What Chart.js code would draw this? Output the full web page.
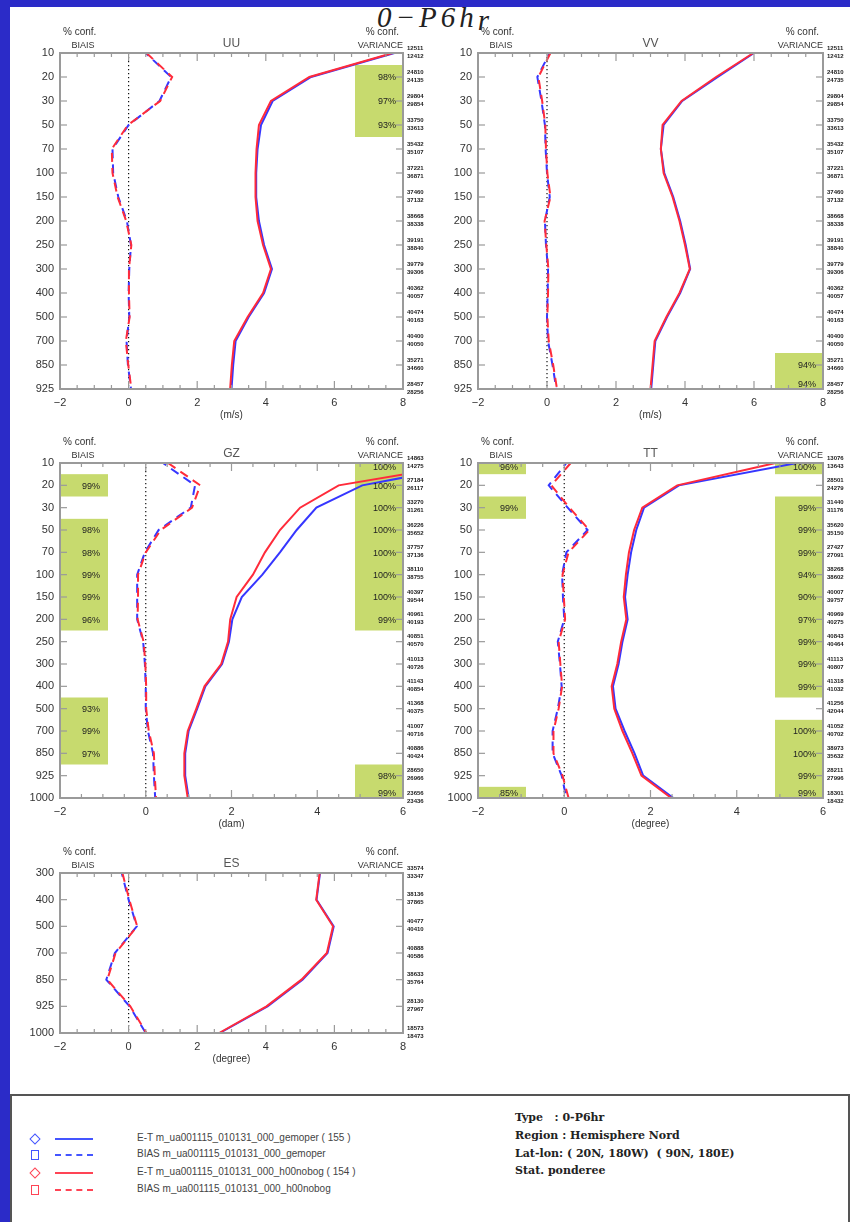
<!DOCTYPE html>
<html>
<head>
<meta charset="utf-8">
<script src="https://cdn.jsdelivr.net/npm/chart.js@4.4.0/dist/chart.umd.min.js"></script>
<style>
  body { margin: 0; width: 850px; height: 1222px; position: relative; overflow: hidden; background: #fff; font-family: "Liberation Sans", Arial, sans-serif; }
  #barLeft { position: absolute; left: 0; top: 0; width: 10px; height: 1222px; background: #2b2bc8; }
  #barTop { position: absolute; left: 0; top: 0; width: 850px; height: 7px; background: #2b2bc8; }
  #title { position: absolute; left: 377px; top: 3px; font: italic 29px/29px "Liberation Serif", serif; letter-spacing: 4px; color: #222; white-space: nowrap; }
  canvas { position: absolute; }
  #legend { position: absolute; left: 10px; top: 1094px; width: 836px; height: 140px; border: 2px solid #555; background: #fff; }
  .mk { position: absolute; box-sizing: border-box; }
  .ln { position: absolute; width: 38px; height: 0; }
  .lt { position: absolute; font-size: 10px; color: #444; white-space: nowrap; line-height: 12px; }
  .info { position: absolute; left: 503px; font: bold 11px/14px "DejaVu Serif", serif; color: #222; white-space: pre; }
</style>
</head>
<body>
<div id="barLeft"></div>
<div id="barTop"></div>
<div id="title">0−P6h<span style="position:relative;top:3px">r</span></div>

<canvas id="uu" width="430" height="411" style="left:10px;top:20px"></canvas>
<canvas id="vv" width="422" height="411" style="left:428px;top:20px"></canvas>
<canvas id="gz" width="430" height="410" style="left:10px;top:430px"></canvas>
<canvas id="tt" width="422" height="410" style="left:428px;top:430px"></canvas>
<canvas id="es" width="430" height="235" style="left:10px;top:840px"></canvas>

<div id="legend">
  <div class="mk" style="left:19px;top:39px;width:8px;height:8px;border:1.5px solid #4455ff;transform:rotate(45deg)"></div>
  <div class="ln" style="left:43px;top:42px;border-top:2px solid #4455ff"></div>
  <div class="lt" style="left:125px;top:36px">E-T m_ua001115_010131_000_gemoper ( 155 )</div>

  <div class="mk" style="left:19px;top:54px;width:8px;height:10px;border:1.5px solid #4455ff"></div>
  <div class="ln" style="left:43px;top:58px;border-top:2px dashed #4455ff"></div>
  <div class="lt" style="left:125px;top:52px">BIAS m_ua001115_010131_000_gemoper</div>

  <div class="mk" style="left:19px;top:73px;width:8px;height:8px;border:1.5px solid #ff4455;transform:rotate(45deg)"></div>
  <div class="ln" style="left:43px;top:76px;border-top:2px solid #ff4455"></div>
  <div class="lt" style="left:125px;top:70px">E-T m_ua001115_010131_000_h00nobog ( 154 )</div>

  <div class="mk" style="left:19px;top:89px;width:8px;height:10px;border:1.5px solid #ff4455"></div>
  <div class="ln" style="left:43px;top:93px;border-top:2px dashed #ff4455"></div>
  <div class="lt" style="left:125px;top:87px">BIAS m_ua001115_010131_000_h00nobog</div>

  <div class="info" style="top:15px">Type   : 0-P6hr</div>
  <div class="info" style="top:33px">Region : Hemisphere Nord</div>
  <div class="info" style="top:51px">Lat-lon: ( 20N, 180W)  ( 90N, 180E)</div>
  <div class="info" style="top:68px">Stat. ponderee</div>
</div>

<script>
// pressure levels (hPa)
const levelsUV = ['10', '20', '30', '50', '70', '100', '150', '200', '250', '300', '400', '500', '700', '850', '925'];
const levelsGT = ['10', '20', '30', '50', '70', '100', '150', '200', '250', '300', '400', '500', '700', '850', '925', '1000'];
const levelsES = ['300', '400', '500', '700', '850', '925', '1000'];

// UU  (A = gemoper / blue, B = h00nobog / red)
const uuEtA   = [7.75, 5.32, 4.2, 3.86, 3.76, 3.72, 3.72, 3.8, 3.95, 4.18, 3.95, 3.5, 3.12, 3.05, 3.0];
const uuEtB   = [7.7, 5.27, 4.15, 3.8, 3.73, 3.7, 3.7, 3.76, 3.92, 4.15, 3.92, 3.47, 3.08, 3.01, 2.96];
const uuBiasA = [0.5, 1.24, 0.9, 0.0, -0.47, -0.45, -0.3, -0.05, 0.07, 0.02, 0.0, 0.02, -0.06, -0.02, 0.07];
const uuBiasB = [0.52, 1.27, 0.92, -0.02, -0.49, -0.47, -0.32, -0.07, 0.08, 0.01, 0.01, 0.03, -0.08, -0.01, 0.08];
const uuConfBias = [null, null, null, null, null, null, null, null, null, null, null, null, null, null, null];
const uuConfVar  = [null, 98, 97, 93, null, null, null, null, null, null, null, null, null, null, null];
const uuNA = [12511, 24810, 29804, 33750, 35432, 37221, 37460, 38668, 39191, 39779, 40362, 40474, 40400, 35271, 28457];
const uuNB = [12412, 24135, 29854, 33613, 35107, 36871, 37132, 38338, 38840, 39306, 40057, 40163, 40050, 34660, 28256];

// VV
const vvEtA   = [6.0, 4.95, 3.92, 3.38, 3.3, 3.4, 3.66, 3.86, 4.02, 4.15, 3.86, 3.48, 3.14, 3.08, 3.02];
const vvEtB   = [5.98, 4.9, 3.9, 3.35, 3.3, 3.38, 3.64, 3.84, 4.0, 4.14, 3.84, 3.46, 3.12, 3.06, 3.0];
const vvBiasA = [0.08, -0.28, -0.16, -0.06, -0.04, 0.0, 0.08, -0.06, -0.03, 0.03, 0.02, 0.0, 0.03, 0.16, 0.27];
const vvBiasB = [0.1, -0.25, -0.14, -0.05, -0.03, 0.01, 0.1, -0.07, -0.02, 0.04, 0.03, 0.01, 0.05, 0.18, 0.29];
const vvConfBias = [null, null, null, null, null, null, null, null, null, null, null, null, null, null, null];
const vvConfVar  = [null, null, null, null, null, null, null, null, null, null, null, null, null, 94, 94];
const vvNA = [12511, 24810, 29804, 33750, 35432, 37221, 37460, 38668, 39191, 39779, 40362, 40474, 40400, 35271, 28457];
const vvNB = [12412, 24735, 29854, 33613, 35107, 36871, 37132, 38338, 38840, 39306, 40057, 40163, 40050, 34660, 28256];

// GZ
const gzEtA   = [7.8, 5.05, 3.98, 3.52, 3.13, 2.72, 2.24, 2.02, 1.94, 1.78, 1.39, 1.2, 1.0, 0.92, 0.92, 1.0];
const gzEtB   = [7.6, 4.5, 3.6, 3.13, 2.78, 2.5, 2.12, 1.97, 1.92, 1.76, 1.37, 1.18, 0.98, 0.9, 0.9, 0.98];
const gzBiasA = [0.4, 1.15, 1.05, 0.3, -0.02, -0.2, -0.2, -0.2, -0.06, -0.02, 0.0, 0.0, 0.05, 0.17, 0.19, 0.22];
const gzBiasB = [0.52, 1.27, 1.08, 0.35, 0.0, -0.18, -0.18, -0.19, -0.05, -0.01, 0.01, 0.01, 0.07, 0.19, 0.21, 0.24];
const gzConfBias = [null, 99, null, 98, 98, 99, 99, 96, null, null, null, 93, 99, 97, null, null];
const gzConfVar  = [100, 100, 100, 100, 100, 100, 100, 99, null, null, null, null, null, null, 98, 99];
const gzNA = [14863, 27184, 33270, 36226, 37757, 38110, 40397, 40961, 40851, 41013, 41143, 41368, 41007, 40886, 28650, 23656];
const gzNB = [14275, 26117, 31261, 35652, 37136, 38755, 39544, 40193, 40570, 40726, 40854, 40375, 40716, 40424, 26966, 23436];

// TT
const ttEtA   = [5.4, 2.66, 1.85, 1.67, 1.55, 1.47, 1.41, 1.47, 1.35, 1.26, 1.13, 1.19, 1.4, 1.63, 1.83, 2.53];
const ttEtB   = [4.9, 2.62, 1.81, 1.62, 1.5, 1.43, 1.38, 1.44, 1.32, 1.23, 1.1, 1.16, 1.35, 1.58, 1.79, 2.48];
const ttBiasA = [0.05, -0.36, 0.08, 0.54, 0.05, -0.05, -0.03, 0.0, -0.15, -0.1, -0.06, -0.15, -0.27, -0.27, -0.06, 0.05];
const ttBiasB = [0.15, -0.3, 0.12, 0.58, 0.1, -0.04, -0.01, 0.02, -0.13, -0.09, -0.05, -0.13, -0.25, -0.25, -0.04, 0.1];
const ttConfBias = [96, null, 99, null, null, null, null, null, null, null, null, null, null, null, null, 85];
const ttConfVar  = [100, null, 99, 99, 99, 94, 90, 97, 99, 99, 99, null, 100, 100, 99, 99];
const ttNA = [13076, 28501, 31440, 35620, 27427, 38268, 40007, 40969, 40843, 41113, 41318, 41256, 41052, 38973, 28211, 18301];
const ttNB = [13643, 24279, 31176, 35150, 27091, 38602, 39757, 40275, 40464, 40807, 41032, 42044, 40702, 35632, 27996, 18432];

// ES
const esEtA   = [5.58, 5.48, 5.98, 5.8, 5.07, 4.05, 2.66];
const esEtB   = [5.57, 5.47, 5.96, 5.78, 5.04, 4.02, 2.64];
const esBiasA = [-0.2, 0.0, 0.24, -0.4, -0.65, 0.03, 0.5];
const esBiasB = [-0.18, 0.02, 0.25, -0.38, -0.62, 0.05, 0.52];
const esConfBias = [null, null, null, null, null, null, null];
const esConfVar  = [null, null, null, null, null, null, null];
const esNA = [33574, 38136, 40477, 40888, 38633, 28130, 18573];
const esNB = [33347, 37865, 40410, 40586, 35764, 27967, 18473];

const BLUE = '#3636ff';
const RED = '#ff2b3a';
const GREEN = '#c7da6e';
const FRAME = '#9a9a9a';
const BOXW = 48;

// consecutive non-null runs -> [[start, end], ...]
function runs(conf) {
  const out = [];
  let i = 0;
  while (i < conf.length) {
    if (conf[i] == null) { i++; continue; }
    let j = i;
    while (j + 1 < conf.length && conf[j + 1] != null) j++;
    out.push([i, j]);
    i = j + 1;
  }
  return out;
}

function seg(ctx, x1, y1, x2, y2) {
  ctx.beginPath(); ctx.moveTo(x1, y1); ctx.lineTo(x2, y2); ctx.stroke();
}

function makeDecor(p) {
  return {
    id: 'decor',
    beforeDatasetsDraw(chart) {
      const { ctx, chartArea: a, scales: { x, y } } = chart;
      ctx.save();
      // green significance boxes
      ctx.fillStyle = GREEN;
      const box = (conf, x1) => runs(conf).forEach(([i, j]) => {
        const t = Math.max(a.top, y.getPixelForValue(i - 0.5));
        const b = Math.min(a.bottom, y.getPixelForValue(j + 0.5));
        ctx.fillRect(x1, t, BOXW, b - t);
      });
      box(p.confBias, a.left);
      box(p.confVar, a.right - BOXW);
      // zero line
      const x0 = x.getPixelForValue(0);
      ctx.strokeStyle = '#111';
      ctx.lineWidth = 1.2;
      ctx.setLineDash([1.3, 2.7]);
      seg(ctx, x0, a.top, x0, a.bottom);
      ctx.restore();
    },
    afterDatasetsDraw(chart) {
      const { ctx, chartArea: a, scales: { x, y } } = chart;
      ctx.save();
      // percentages
      ctx.fillStyle = '#222';
      ctx.font = '9px "Liberation Sans", Arial, sans-serif';
      ctx.textBaseline = 'middle';
      const clampY = v => Math.min(a.bottom - 4, Math.max(a.top + 5, v + 1));
      p.confBias.forEach((v, i) => {
        if (v == null) return;
        ctx.textAlign = 'center';
        ctx.fillText(v + '%', a.left + 31, clampY(y.getPixelForValue(i)));
      });
      p.confVar.forEach((v, i) => {
        if (v == null) return;
        ctx.textAlign = 'right';
        ctx.fillText(v + '%', a.right - 7, clampY(y.getPixelForValue(i)));
      });
      // frame + inward ticks
      ctx.strokeStyle = FRAME;
      ctx.lineWidth = 1.2;
      p.levels.forEach((_, i) => {
        const py = y.getPixelForValue(i);
        seg(ctx, a.left, py, a.left + 7, py);
        seg(ctx, a.right - 7, py, a.right, py);
      });
      for (let v = p.min; v <= p.max + 1e-9; v += 0.5) {
        const px = x.getPixelForValue(v);
        const len = Math.abs(v % 2) < 1e-9 ? 8 : 4;
        seg(ctx, px, a.bottom, px, a.bottom - len);
        seg(ctx, px, a.top, px, a.top + len);
      }
      ctx.lineWidth = 2;
      ctx.strokeRect(a.left, a.top, a.right - a.left, a.bottom - a.top);
      // headers
      ctx.fillStyle = '#333';
      ctx.font = '10px "Liberation Sans", Arial, sans-serif';
      ctx.textAlign = 'left';
      ctx.fillText('% conf.', a.left + 3, a.top - 21);
      ctx.textAlign = 'right';
      ctx.fillText('% conf.', a.right - 4, a.top - 21);
      ctx.font = '9px "Liberation Sans", Arial, sans-serif';
      ctx.textAlign = 'center';
      ctx.fillText('BIAIS', a.left + 23, a.top - 7);
      ctx.textAlign = 'right';
      ctx.fillText('VARIANCE', a.right, a.top - 7);
      ctx.textAlign = 'center';
      ctx.fillStyle = '#555';
      ctx.font = '12px "Liberation Sans", Arial, sans-serif';
      ctx.fillText(p.name, (a.left + a.right) / 2, a.top - 9);
      // observation counts
      ctx.fillStyle = '#222';
      ctx.font = 'bold 6px "Liberation Sans", Arial, sans-serif';
      ctx.textAlign = 'left';
      p.levels.forEach((_, i) => {
        const py = y.getPixelForValue(i);
        ctx.fillText(String(p.nA[i]), a.right + 4, py - 5);
        ctx.fillText(String(p.nB[i]), a.right + 4, py + 3);
      });
      ctx.restore();
    }
  };
}

const panels = [
  { id: 'uu', name: 'UU', unit: '(m/s)', levels: levelsUV, min: -2, max: 8, padR: 37,
    etA: uuEtA, etB: uuEtB, biasA: uuBiasA, biasB: uuBiasB, confBias: uuConfBias, confVar: uuConfVar, nA: uuNA, nB: uuNB },
  { id: 'vv', name: 'VV', unit: '(m/s)', levels: levelsUV, min: -2, max: 8, padR: 27,
    etA: vvEtA, etB: vvEtB, biasA: vvBiasA, biasB: vvBiasB, confBias: vvConfBias, confVar: vvConfVar, nA: vvNA, nB: vvNB },
  { id: 'gz', name: 'GZ', unit: '(dam)', levels: levelsGT, min: -2, max: 6, padR: 37,
    etA: gzEtA, etB: gzEtB, biasA: gzBiasA, biasB: gzBiasB, confBias: gzConfBias, confVar: gzConfVar, nA: gzNA, nB: gzNB },
  { id: 'tt', name: 'TT', unit: '(degree)', levels: levelsGT, min: -2, max: 6, padR: 27,
    etA: ttEtA, etB: ttEtB, biasA: ttBiasA, biasB: ttBiasB, confBias: ttConfBias, confVar: ttConfVar, nA: ttNA, nB: ttNB },
  { id: 'es', name: 'ES', unit: '(degree)', levels: levelsES, min: -2, max: 8, padR: 37,
    etA: esEtA, etB: esEtB, biasA: esBiasA, biasB: esBiasB, confBias: esConfBias, confVar: esConfVar, nA: esNA, nB: esNB }
];

const fmt = v => (v < 0 ? '\u2212' + (-v) : String(v));

panels.forEach(p => {
  new Chart(document.getElementById(p.id), {
    type: 'line',
    data: {
      labels: p.levels,
      datasets: [
        // red drawn last = on top (lower index draws over higher)
        { data: p.etB, borderColor: RED, borderWidth: 2 },
        { data: p.biasB, borderColor: RED, borderWidth: 2, borderDash: [9, 6] },
        { data: p.etA, borderColor: BLUE, borderWidth: 2 },
        { data: p.biasA, borderColor: BLUE, borderWidth: 2, borderDash: [9, 6], borderDashOffset: 5 }
      ]
    },
    options: {
      indexAxis: 'y',
      responsive: false,
      animation: false,
      devicePixelRatio: 1,
      layout: { padding: { top: 33, right: p.padR, left: 0, bottom: 0 } },
      elements: { point: { radius: 0 }, line: { tension: 0 } },
      plugins: { legend: { display: false }, tooltip: { enabled: false } },
      scales: {
        x: {
          type: 'linear', position: 'bottom', min: p.min, max: p.max,
          grid: { display: false, drawTicks: false }, border: { display: false },
          ticks: { stepSize: 2, padding: 7, color: '#333', font: { size: 11 }, maxRotation: 0, callback: v => fmt(v) },
          title: { display: true, text: p.unit, color: '#333', font: { size: 10 }, padding: { top: 0, bottom: 10 } },
          afterFit: s => { s.height = 42; }
        },
        y: {
          type: 'category', offset: false,
          grid: { display: false, drawTicks: false }, border: { display: false },
          ticks: { padding: 6, color: '#333', font: { size: 11 }, autoSkip: false },
          afterFit: s => { s.width = 50; }
        }
      }
    },
    plugins: [makeDecor(p)]
  });
});
</script>
</body>
</html>
